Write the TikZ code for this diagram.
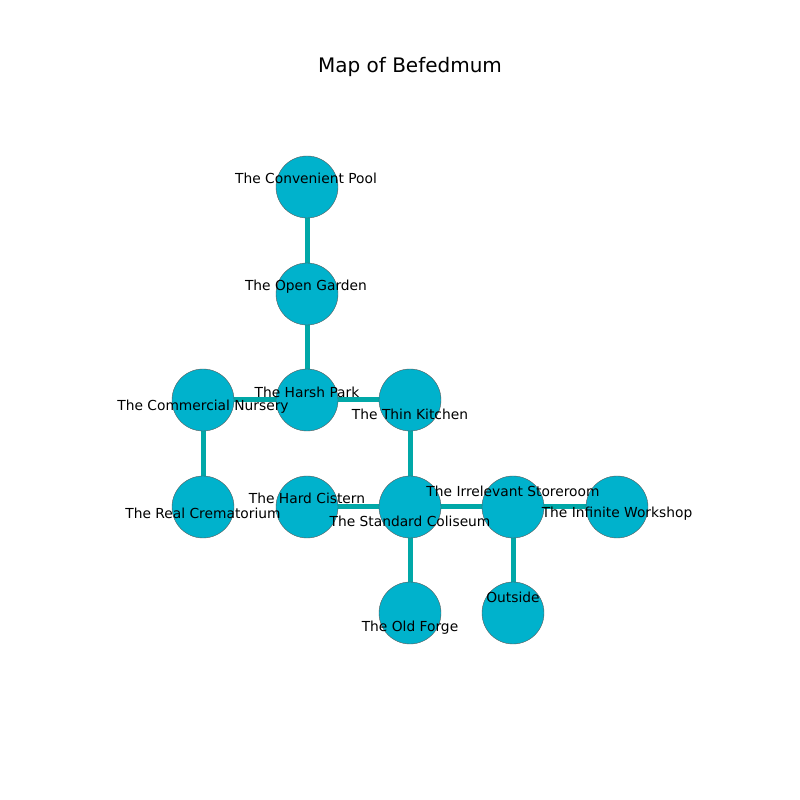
\documentclass[tikz,border=0pt]{standalone}
\usepackage{fontspec}
\setmainfont{DejaVu Sans}
\usepackage{tikz}

\definecolor{roomfill}{HTML}{00B2CC}
\definecolor{roadcol}{HTML}{00A8A8}

\begin{document}
\begin{tikzpicture}[x=1pt, y=1pt,
		room/.style = {
			shape=circle, draw=gray!70!black, line width=0.4pt,
			fill=roomfill, minimum size=62pt, inner sep=0pt},
		road/.style = {draw=roadcol, line width=5pt},
		tag/.style = {font=\fontsize{13.8}{15}\selectfont, inner sep=0pt, text=black}]
		\useasboundingbox (0,0) rectangle (800,800);
		\node[font=\fontsize{20}{22}\selectfont] (title) at (410,733) {Map of Befedmum};
		% rooms
		\coordinate (cpool) at (307,613);
		\coordinate (cgarden) at (307,506);
		\coordinate (charsh) at (307,400);
		\coordinate (cnursery) at (203,400);
		\coordinate (ckitchen) at (410,400);
		\coordinate (ccrem) at (203,293);
		\coordinate (ccistern) at (307,293);
		\coordinate (ccoliseum) at (410,293);
		\coordinate (cstore) at (513,293);
		\coordinate (cworkshop) at (617,293);
		\coordinate (cforge) at (410,187);
		\coordinate (coutside) at (513,187);
		% roads
		\draw[road] (cpool) -- (cgarden);
		\draw[road] (cgarden) -- (charsh);
		\draw[road] (charsh) -- (cnursery);
		\draw[road] (charsh) -- (ckitchen);
		\draw[road] (cnursery) -- (ccrem);
		\draw[road] (ckitchen) -- (ccoliseum);
		\draw[road] (ccistern) -- (ccoliseum);
		\draw[road] (ccoliseum) -- (cstore);
		\draw[road] (cstore) -- (cworkshop);
		\draw[road] (ccoliseum) -- (cforge);
		\draw[road] (cstore) -- (coutside);
		\node[room] (pool) at (cpool) {};
		\node[room] (garden) at (cgarden) {};
		\node[room] (harsh) at (charsh) {};
		\node[room] (nursery) at (cnursery) {};
		\node[room] (kitchen) at (ckitchen) {};
		\node[room] (crem) at (ccrem) {};
		\node[room] (cistern) at (ccistern) {};
		\node[room] (coliseum) at (ccoliseum) {};
		\node[room] (store) at (cstore) {};
		\node[room] (workshop) at (cworkshop) {};
		\node[room] (forge) at (cforge) {};
		\node[room] (outside) at (coutside) {};
		% labels
		\node[tag] (lpool) at (306,622) {The Convenient Pool};
		\node[tag] (lgarden) at (306,513) {The Open Garden};
		\node[tag] (lharsh) at (307,408) {The Harsh Park};
		\node[tag] (lnursery) at (203,393) {The Commercial Nursery};
		\node[tag] (lkitchen) at (410,386) {The Thin Kitchen};
		\node[tag] (lcrem) at (203,287) {The Real Crematorium};
		\node[tag] (lcistern) at (307,302) {The Hard Cistern};
		\node[tag] (lcoliseum) at (410,279) {The Standard Coliseum};
		\node[tag] (lstore) at (513,309) {The Irrelevant Storeroom};
		\node[tag] (lworkshop) at (617,286) {The Infinite Workshop};
		\node[tag] (lforge) at (410,172) {The Old Forge};
		\node[tag] (loutside) at (513,203) {Outside};
	\end{tikzpicture}
\end{document}
